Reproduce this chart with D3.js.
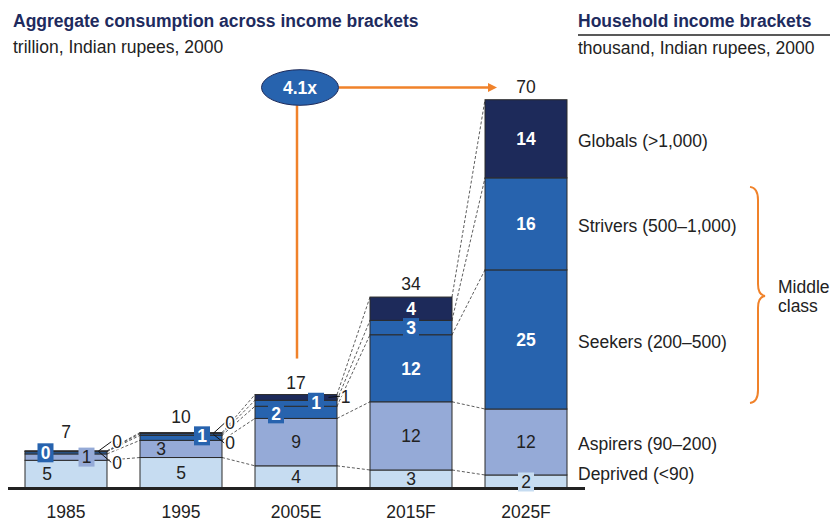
<!DOCTYPE html>
<html><head><meta charset="utf-8">
<script src="https://cdn.jsdelivr.net/npm/d3@7"></script>
<style>body{margin:0;background:#fff} svg{display:block} text{font-family:"Liberation Sans",Arial,sans-serif}</style>
</head><body><svg id="c" width="830" height="521"></svg>
<script>
// ---------- data ----------
const years = ["1985", "1995", "2005E", "2015F", "2025F"];
const series = ["Deprived", "Aspirers", "Seekers", "Strivers", "Globals"];
const seriesLabels = ["Deprived (<90)", "Aspirers (90–200)", "Seekers (200–500)", "Strivers (500–1,000)", "Globals (>1,000)"];
// underlying values, trillion INR
const deprived = [5.0, 5.5, 4.0, 3.25, 2.35];
const aspirers = [1.15, 3.1, 8.55, 12.3, 11.9];
const seekers  = [0.4, 0.9, 2.2, 12.1, 25.1];
const strivers = [0.1, 0.3, 1.08, 2.6, 16.6];
const globals  = [0.05, 0.2, 1.03, 4.2, 14.1];
// printed labels
const deprivedLbl = [5, 5, 4, 3, 2];
const aspirersLbl = [1, 3, 9, 12, 12];
const seekersLbl  = [0, 1, 2, 12, 25];
const striversLbl = [0, 0, 1, 3, 16];
const globalsLbl  = [0, 0, 1, 4, 14];
const totals = [7, 10, 17, 34, 70];
const growth = "4.1x";
const groupNote = ["Middle", "class"];

// ---------- styles / layout ----------
const colors = {Deprived: "#c6dcf1", Aspirers: "#95aad7", Seekers: "#2763ae", Strivers: "#2763ae", Globals: "#1d2a5a"};
const whiteText = {Deprived: false, Aspirers: false, Seekers: true, Strivers: true, Globals: true};
const orange = "#f0822a", navy = "#1e2b5e", ink = "#222";
const FS = 17.5;
// label placement tweaks: key "year|series"
const labelLayout = {
  "1985|Deprived": {dx: -19},
  "1985|Aspirers": {box: true, dx: 20.5},
  "1985|Seekers": {box: true, dx: -20.5},
  "1985|Strivers": {out: true, dx: 10, dy: 11.7},
  "1985|Globals": {out: true, dx: 10, dy: -9.3},
  "1995|Aspirers": {dx: -20},
  "1995|Seekers": {box: true, dx: 21, dy: -2},
  "1995|Strivers": {out: true, dx: 8, dy: 10.6},
  "1995|Globals": {out: true, dx: 8, dy: -9.4},
  "2005E|Seekers": {box: true, dx: -20, dy: 1.5},
  "2005E|Strivers": {box: true, dx: 20, dy: -1},
  "2005E|Globals": {out: true, dx: 8.5, dy: 1.7},
  "2015F|Strivers": {box: true},
  "2025F|Deprived": {box: true, dy: 0.5}
};
const totalOffset = [-13, -10, -6, -7, -7];

const valuesBy = {Deprived: deprived, Aspirers: aspirers, Seekers: seekers, Strivers: strivers, Globals: globals};
const labelsBy = {Deprived: deprivedLbl, Aspirers: aspirersLbl, Seekers: seekersLbl, Strivers: striversLbl, Globals: globalsLbl};

const rows = years.map((yr, i) => {
  const r = {year: yr};
  series.forEach(s => r[s] = valuesBy[s][i]);
  return r;
});
const stack = d3.stack().keys(series)(rows);

const svg = d3.select("#c");
const x = d3.scaleBand().domain(years).range([25, 567]).paddingInner(0.287).paddingOuter(0);
const y = d3.scaleLinear().domain([0, 70]).range([488, 100]);
const bw = x.bandwidth();

// ---------- titles ----------
svg.append("text").attr("x", 13).attr("y", 27).attr("font-size", FS).attr("font-weight", "bold").attr("fill", navy)
  .text("Aggregate consumption across income brackets");
svg.append("text").attr("x", 13).attr("y", 53).attr("font-size", FS).attr("fill", ink)
  .text("trillion, Indian rupees, 2000");
svg.append("text").attr("x", 578).attr("y", 27).attr("font-size", FS).attr("font-weight", "bold").attr("fill", navy)
  .text("Household income brackets");
svg.append("line").attr("x1", 578).attr("x2", 830).attr("y1", 35).attr("y2", 35).attr("stroke", ink).attr("stroke-width", 1.3);
svg.append("text").attr("x", 578).attr("y", 54).attr("font-size", FS).attr("fill", ink)
  .text("thousand, Indian rupees, 2000");

// ---------- dashed connectors ----------
const conn = svg.append("g").attr("stroke", "#333").attr("stroke-width", 0.8).attr("stroke-dasharray", "3,2").attr("fill", "none");
for (let i = 0; i < years.length - 1; i++) {
  stack.forEach(layer => {
    conn.append("line")
      .attr("x1", x(years[i]) + bw).attr("y1", y(layer[i][1]))
      .attr("x2", x(years[i + 1])).attr("y2", y(layer[i + 1][1]));
  });
}

// ---------- bars ----------
const g = svg.append("g");
stack.forEach(layer => {
  g.selectAll(null).data(layer).enter().append("rect")
    .attr("x", d => x(d.data.year)).attr("width", bw)
    .attr("y", d => y(d[1])).attr("height", d => y(d[0]) - y(d[1]))
    .attr("fill", colors[layer.key]).attr("stroke", "#2b2b2b").attr("stroke-width", 1);
});

// baseline
svg.append("line").attr("x1", 8).attr("x2", 585).attr("y1", y(0) + 0.5).attr("y2", y(0) + 0.5)
  .attr("stroke", ink).attr("stroke-width", 3);

// ---------- segment labels ----------
const lg = svg.append("g");
stack.forEach(layer => {
  const s = layer.key;
  layer.forEach((d, i) => {
    const yr = years[i];
    const lay = labelLayout[yr + "|" + s] || {};
    const cx = x(yr) + bw / 2, cy = (y(d[0]) + y(d[1])) / 2;
    const txt = labelsBy[s][i];
    if (lay.out) {
      const right = x(yr) + bw, top = y(d3.sum(series, k => valuesBy[k][i]));
      const lx = right + lay.dx, ly = top + lay.dy;
      lg.append("line").attr("x1", right - 8.5).attr("y1", cy).attr("x2", lx - 5.5).attr("y2", ly)
        .attr("stroke", "#111").attr("stroke-width", 1);
      lg.append("text").attr("x", lx).attr("y", ly).attr("dy", "0.36em").attr("text-anchor", "middle")
        .attr("font-size", FS).attr("fill", ink)
        .attr("stroke", "#fff").attr("stroke-width", 3).attr("paint-order", "stroke")
        .text(txt);
      return;
    }
    const tx = cx + (lay.dx || 0), ty = cy + (lay.dy || 0);
    if (lay.box) {
      lg.append("rect").attr("x", tx - 8).attr("y", ty - 9.5).attr("width", 16).attr("height", 19)
        .attr("fill", colors[s]);
    }
    lg.append("text").attr("x", tx).attr("y", ty).attr("dy", "0.36em").attr("text-anchor", "middle")
      .attr("font-size", FS).attr("font-weight", whiteText[s] ? "bold" : "normal")
      .attr("fill", whiteText[s] ? "#fff" : ink).text(txt);
  });
});

// totals
years.forEach((yr, i) => {
  const top = y(d3.sum(series, k => valuesBy[k][i]));
  svg.append("text").attr("x", x(yr) + bw / 2).attr("y", top + totalOffset[i]).attr("text-anchor", "middle")
    .attr("font-size", FS).attr("fill", ink).text(totals[i]);
});

// year axis labels
const xAxis = d3.axisBottom(x).tickSize(0).tickPadding(0);
const ax = svg.append("g").attr("transform", `translate(0,${y(0) + 18})`).call(xAxis);
ax.select(".domain").remove();
ax.selectAll("text").attr("font-size", FS).attr("fill", ink).attr("font-family", "Liberation Sans, Arial, sans-serif");

// right-side series labels (aligned to last bar)
const lastIdx = years.length - 1;
stack.forEach((layer, k) => {
  const d = layer[lastIdx];
  let cy = (y(d[0]) + y(d[1])) / 2 + 2;
  if (layer.key === "Deprived") cy = y(d[1]) - 1;
  svg.append("text").attr("x", 578).attr("y", cy).attr("dy", "0.36em").attr("font-size", FS).attr("fill", ink)
    .text(seriesLabels[k]);
});

// middle-class brace
const bTop = y(stack[3][lastIdx][1]) + 9, bBot = y(stack[1][lastIdx][1]) - 6;
const bMid = (bTop + bBot) / 2 + 1;
const bx = 750;
svg.append("path")
  .attr("d", `M${bx},${bTop} Q${bx + 8},${bTop + 1} ${bx + 8},${bTop + 13} L${bx + 8},${bMid - 12} Q${bx + 8},${bMid - 1} ${bx + 15},${bMid} Q${bx + 8},${bMid + 1} ${bx + 8},${bMid + 12} L${bx + 8},${bBot - 13} Q${bx + 8},${bBot - 1} ${bx},${bBot}`)
  .attr("fill", "none").attr("stroke", orange).attr("stroke-width", 2);
svg.append("text").attr("x", 778).attr("y", bMid - 3).attr("font-size", FS).attr("fill", ink).text(groupNote[0]);
svg.append("text").attr("x", 778).attr("y", bMid + 16).attr("font-size", FS).attr("fill", ink).text(groupNote[1]);

// ---------- growth annotation ----------
const cx3 = x(years[2]) + bw / 2;
const eY = y(70) - 12.5, eX = cx3 + 4, rx = 38.5, ry = 17.8;
svg.append("line").attr("x1", cx3 + 1).attr("x2", cx3 + 1).attr("y1", y(d3.sum(series, k => valuesBy[k][2])) - 36).attr("y2", eY + ry)
  .attr("stroke", orange).attr("stroke-width", 2.5);
const arrowEnd = x(years[4]) + 12;
svg.append("line").attr("x1", eX + rx).attr("x2", arrowEnd - 8).attr("y1", eY).attr("y2", eY)
  .attr("stroke", orange).attr("stroke-width", 2.5);
svg.append("path").attr("d", `M${arrowEnd},${eY} L${arrowEnd - 9},${eY - 4.5} L${arrowEnd - 9},${eY + 4.5} Z`).attr("fill", orange);
svg.append("ellipse").attr("cx", eX).attr("cy", eY).attr("rx", rx).attr("ry", ry)
  .attr("fill", "#2763ae").attr("stroke", "#1d2a5a").attr("stroke-width", 1);
svg.append("text").attr("x", eX).attr("y", eY).attr("dy", "0.36em").attr("text-anchor", "middle")
  .attr("font-size", FS).attr("font-weight", "bold").attr("fill", "#fff").text(growth);
</script></body></html>
